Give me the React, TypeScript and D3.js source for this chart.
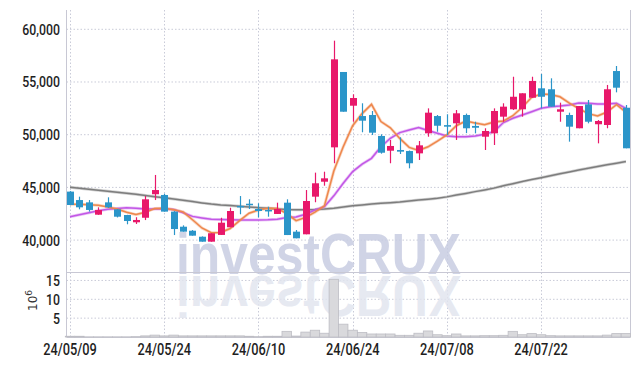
import React, { useRef, useEffect } from "react";
import * as d3 from "d3";

const dates = [
  "24/05/09", "24/05/10", "24/05/13", "24/05/14", "24/05/16", "24/05/17", "24/05/20", "24/05/21", "24/05/22", "24/05/23",
  "24/05/24", "24/05/27", "24/05/28", "24/05/29", "24/05/30", "24/05/31", "24/06/03", "24/06/04", "24/06/05", "24/06/07",
  "24/06/10", "24/06/11", "24/06/12", "24/06/13", "24/06/14", "24/06/17", "24/06/18", "24/06/19", "24/06/20", "24/06/21",
  "24/06/24", "24/06/25", "24/06/26", "24/06/27", "24/06/28", "24/07/01", "24/07/02", "24/07/03", "24/07/04", "24/07/05",
  "24/07/08", "24/07/09", "24/07/10", "24/07/11", "24/07/12", "24/07/15", "24/07/16", "24/07/17", "24/07/18", "24/07/19",
  "24/07/22", "24/07/23", "24/07/24", "24/07/25", "24/07/26", "24/07/29", "24/07/30", "24/07/31", "24/08/01", "24/08/02",
];

const opens = [
  44600, 43800, 43580, 42410, 43580, 42920, 42380, 41690, 42120, 44350,
  44280, 42700, 41270, 40890, 40320, 39850, 40490, 41220, 43240, 43450,
  42950, 42860, 42480, 43550, 40800, 40550, 44120, 45540, 48800, 55950,
  52750, 51770, 51870, 49880, 48480, 48550, 48450, 48230, 50130, 51770,
  50910, 51080, 51870, 50830, 49810, 50130, 51710, 52410, 52410, 53510,
  54400, 54310, 52180, 51870, 50610, 52880, 50990, 50920, 56040, 52560,
];
const highs = [
  44650, 44120, 43800, 43110, 44060, 42950, 42400, 42170, 44180, 46180,
  44400, 42750, 41400, 40950, 40350, 40650, 42120, 43070, 44180, 43870,
  43490, 43170, 43550, 43870, 40960, 44750, 46400, 46490, 58920, 55950,
  53830, 52980, 52250, 50040, 49500, 49750, 48500, 49400, 52500, 51870,
  51940, 52340, 52000, 51230, 50610, 52500, 52980, 55500, 53930, 55500,
  55760, 55350, 53040, 52090, 52720, 53290, 51390, 54720, 56520, 52820,
];
const lows = [
  43300, 42920, 42700, 42400, 43050, 42150, 41500, 41530, 41900, 43800,
  42700, 40480, 40800, 40420, 39850, 39850, 40490, 41220, 42450, 42950,
  42160, 42220, 42480, 40480, 40170, 40550, 43590, 45160, 47290, 52180,
  51230, 50230, 49970, 48200, 47290, 48170, 46810, 47600, 49810, 50280,
  49970, 49500, 50150, 50130, 48550, 49020, 51230, 52340, 51710, 53510,
  52500, 52660, 51230, 49340, 50610, 51080, 49180, 50610, 54020, 48710,
];
const closes = [
  43330, 43110, 42860, 42860, 43110, 42220, 41810, 41910, 43870, 44750,
  42700, 41050, 40800, 40420, 39850, 40650, 41650, 42760, 43110, 43360,
  42760, 42730, 42950, 40480, 40170, 43710, 45390, 45860, 57150, 52180,
  53480, 51330, 50190, 48290, 48930, 48390, 47290, 48990, 52090, 50850,
  50760, 52030, 50610, 50660, 50350, 52250, 52660, 53600, 53930, 55100,
  53600, 52660, 52410, 50760, 52720, 51230, 51300, 54310, 54460, 48710,
];

// volume, millions of shares
const volumes = [
  0.2, 0.2, 0.05, 0.05, 0.05, 0.05, 0.05, 0.1, 0.3, 0.5,
  0.3, 0.5, 0.3, 0.3, 0.3, 0.3, 0.3, 0.3, 0.3, 0.2,
  0.1, 0.2, 0.2, 1.5, 0.25, 1.3, 1.8, 1.0, 15.3, 3.4,
  1.8, 1.2, 0.8, 0.8, 0.8, 0.45, 0.45, 1.0, 1.6, 0.6,
  0.35, 0.8, 0.3, 0.3, 0.35, 0.35, 0.45, 1.5, 0.6, 0.9,
  0.6, 0.35, 0.3, 0.3, 0.3, 0.3, 0.3, 0.5, 0.9, 0.9,
];

const ma5 = [
  43400, 43400, 43350, 43300, 43150, 42950, 42650, 42420, 42650, 43000,
  43010, 42880, 42680, 41930, 41150, 40700, 40720, 41100, 41850, 42550,
  42850, 43020, 43000, 42520, 41840, 42150, 42650, 43250, 46550, 48850,
  50850, 52000, 52880, 51250, 50650, 49650, 48800, 48500, 48850, 49400,
  49980, 50850, 51300, 51100, 50950, 51200, 51300, 51800, 52600, 53550,
  53850, 53820, 53600, 53000, 52480, 52000, 51780, 52150, 52850, 52150,
];
const ma20 = [
  42220, 42400, 42600, 42780, 42920, 43000, 43070, 43020, 42960, 42950,
  42980, 42900, 42600, 42250, 42100, 41970, 41960, 41930, 41910, 41910,
  41910, 41930, 41980, 42150, 42200, 42450, 42860, 43170, 44200, 45400,
  46500, 47200, 47760, 48860, 49660, 50200, 50450, 50680, 50400, 50130,
  49880, 49810, 49810, 49880, 50040, 50290, 51150, 51560, 51870, 52180,
  52500, 52660, 52720, 52820, 53000, 52980, 52910, 52910, 52980, 52500,
];
const ma60 = [
  45010, 44920, 44830, 44740, 44640, 44540, 44440, 44340, 44230, 44120,
  44010, 43900, 43780, 43660, 43530, 43420, 43340, 43280, 43220, 43150,
  43080, 43020, 42960, 42910, 42880, 42880, 42900, 42940, 43020, 43140,
  43260, 43340, 43420, 43490, 43550, 43620, 43720, 43800, 43880, 43960,
  44100, 44280, 44430, 44600, 44760, 44930, 45160, 45350, 45550, 45740,
  45920, 46110, 46290, 46470, 46650, 46820, 46990, 47150, 47300, 47450,
];

const priceTicks = [40000, 45000, 50000, 55000, 60000];
const volTicks = [5, 10, 15];
const dateTicks = ["24/05/09", "24/05/24", "24/06/10", "24/06/24", "24/07/08", "24/07/22"];

const UP = "#e8186a";
const DOWN = "#2b95c9";
const FONT = "Roboto, 'Noto Sans', sans-serif";

function App() {
  const svgRef = useRef<SVGSVGElement>(null);

  useEffect(() => {
    const svg = d3.select(svgRef.current);
    svg.selectAll("*").remove();

    const left = 66.5, right = 630.5, top = 10, split = 272, bottom = 337;

    const x = d3.scaleBand<string>().domain(dates).range([65.3, 630.6]);
    const cx = (d: string) => (x(d) as number) + x.bandwidth() / 2;
    const y = d3.scaleLinear().domain([36973, 61831]).range([split, top]);
    const yv = d3.scaleLinear().domain([0, 17.24]).range([bottom, split]);

    const grid = svg.append("g").attr("stroke", "#c9cbd8").attr("stroke-dasharray", "1.5,2");
    grid.selectAll(".hp").data(priceTicks).join("line")
      .attr("x1", left).attr("x2", right)
      .attr("y1", d => y(d)).attr("y2", d => y(d));
    grid.selectAll(".hv").data(volTicks).join("line")
      .attr("x1", left).attr("x2", right)
      .attr("y1", d => yv(d)).attr("y2", d => yv(d));
    grid.selectAll(".v").data(dateTicks).join("line")
      .attr("x1", d => Math.round(cx(d)) + 0.5).attr("x2", d => Math.round(cx(d)) + 0.5)
      .attr("y1", top).attr("y2", bottom);

    // watermark + reflection
    const wm = svg.append("g").attr("font-family", "'Liberation Sans', Arial, sans-serif")
      .attr("font-weight", "bold").attr("font-size", 58);
    wm.append("text").attr("x", 176).attr("y", 274)
      .attr("textLength", 285).attr("lengthAdjust", "spacingAndGlyphs")
      .attr("fill", "#c8cde2").attr("fill-opacity", 0.85).text("investCRUX");
    wm.append("text").attr("x", 176).attr("y", 274)
      .attr("transform", "translate(0,550) scale(1,-1)")
      .attr("textLength", 285).attr("lengthAdjust", "spacingAndGlyphs")
      .attr("fill", "#e2e5ef").attr("fill-opacity", 0.85).text("investCRUX");

    // frame
    const frame = svg.append("g").attr("stroke", "#c8c8d4").attr("fill", "none");
    frame.append("line").attr("x1", left).attr("x2", left).attr("y1", top).attr("y2", bottom);
    frame.append("line").attr("x1", right).attr("x2", right).attr("y1", top).attr("y2", bottom);
    frame.append("line").attr("x1", left).attr("x2", right).attr("y1", split + 0.5).attr("y2", split + 0.5);
    frame.append("line").attr("x1", left).attr("x2", right).attr("y1", bottom + 0.5).attr("y2", bottom + 0.5);

    // volume bars
    svg.append("g").selectAll("rect").data(dates).join("rect")
      .attr("x", d => x(d) as number)
      .attr("width", x.bandwidth())
      .attr("y", (d, i) => yv(volumes[i]))
      .attr("height", (d, i) => yv(0) - yv(volumes[i]))
      .attr("fill", "#d9d9dc")
      .attr("stroke", "#bdbdc4")
      .attr("stroke-width", 0.8);

    // moving averages
    const line = (vals: number[]) => d3.line<string>()
      .x(d => cx(d))
      .y((d, i) => y(vals[i]))(dates);
    const mas: [number[], string][] = [[ma60, "#7d7d7d"], [ma20, "#c257e6"], [ma5, "#ee874c"]];
    mas.forEach(([vals, col]) => {
      svg.append("path").attr("d", line(vals)).attr("fill", "none")
        .attr("stroke", col).attr("stroke-opacity", 0.35).attr("stroke-width", 3);
      svg.append("path").attr("d", line(vals)).attr("fill", "none")
        .attr("stroke", col).attr("stroke-width", 1.5);
    });

    // candles
    const candles = svg.append("g").selectAll("g").data(dates).join("g");
    const colorOf = (i: number) => (closes[i] >= opens[i] ? UP : DOWN);
    candles.append("line")
      .attr("x1", d => Math.round(cx(d)) + 0.5).attr("x2", d => Math.round(cx(d)) + 0.5)
      .attr("y1", (d, i) => y(highs[i])).attr("y2", (d, i) => y(lows[i]))
      .attr("stroke", (d, i) => colorOf(i)).attr("stroke-width", 1.2);
    candles.append("rect")
      .attr("x", d => Math.round(cx(d)) + 0.5 - 3.5)
      .attr("width", 7)
      .attr("y", (d, i) => y(Math.max(opens[i], closes[i])))
      .attr("height", (d, i) => Math.max(1.5, Math.abs(y(opens[i]) - y(closes[i]))))
      .attr("fill", (d, i) => colorOf(i));

    // axis labels (condensed look: squeeze horizontally)
    const labels = svg.append("g").attr("font-family", FONT).attr("font-weight", 500)
      .attr("font-size", 15).attr("fill", "#1e1e1e");
    labels.selectAll(".py").data(priceTicks).join("text")
      .attr("transform", d => `translate(60,${y(d) + 5.5}) scale(0.82,1)`)
      .attr("text-anchor", "end").text(d => d3.format(",")(d));
    labels.selectAll(".vy").data(volTicks).join("text")
      .attr("transform", d => `translate(60,${yv(d) + 5.5}) scale(0.82,1)`)
      .attr("text-anchor", "end").text(d => String(d));
    labels.selectAll(".dx").data(dateTicks).join("text")
      .attr("transform", d => `translate(${cx(d)},355) scale(0.8,1)`)
      .attr("text-anchor", "middle").attr("font-size", 16).text(d => d);

    const unit = svg.append("text")
      .attr("transform", "translate(37,311) rotate(-90)")
      .attr("font-family", "'DejaVu Sans', sans-serif").attr("font-size", 12).attr("fill", "#333");
    unit.append("tspan").text("10");
    unit.append("tspan").attr("dy", -5).attr("font-size", 9).text("6");
  }, []);

  return (
    <svg ref={svgRef} width={639} height={366}
      style={{ position: "absolute", left: 0, top: 0, background: "#fff" }} />
  );
}

export default App;
